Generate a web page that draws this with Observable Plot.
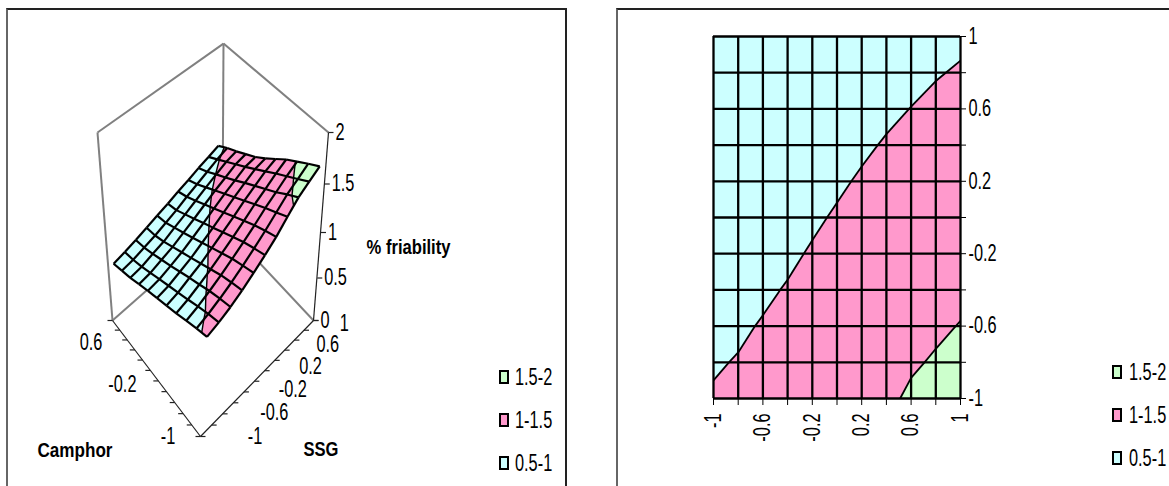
<!DOCTYPE html>
<html><head><meta charset="utf-8">
<script src="https://cdn.jsdelivr.net/npm/d3@7"></script>
<script src="https://cdn.jsdelivr.net/npm/@observablehq/plot@0.6"></script>
<style>
html,body{margin:0;padding:0;background:#fff;}
#page{position:relative;width:1169px;height:486px;overflow:hidden;background:#fff;font-family:"Liberation Sans",Arial,sans-serif;}
#page svg{position:absolute;top:0;background:transparent;}
.frame{position:absolute;top:8px;height:520px;border:2px solid #222;border-left-color:#666;box-sizing:border-box;}
.leg{position:absolute;display:flex;align-items:center;font-size:23px;color:#000;height:20px;line-height:20px;white-space:nowrap;}
.leg i{display:block;width:6px;height:10px;border:2px solid #000;margin-right:7px;flex:none;}
.leg span{display:inline-block;transform:scaleX(.71);transform-origin:0 50%;}
</style></head><body><div id="page"></div>
<script>
// SSG levels (columns) and Camphor levels (rows)
const levels = [-1,-0.8,-0.6,-0.4,-0.2,0,0.2,0.4,0.6,0.8,1];
const tickLabels = ["-1","-0.6","-0.2","0.2","0.6","1"];
const zTicks = [0,0.5,1,1.5,2];
const bandNames = ["0.5-1","1-1.5","1.5-2"];
const bandEdges = [0.5,1,1.5,2];
const bandColors = ["#CCFFFF","#FF99CC","#CCFFCC"];
// % friability; each row is one Camphor level from -1 to 1, each column one SSG level from -1 to 1
const row_m10 = [1.02,1.05,1.09,1.145,1.21,1.28,1.355,1.45,1.54,1.595,1.646];
const row_m08 = [0.98,1.012,1.056,1.108,1.17,1.238,1.31,1.39,1.47,1.525,1.58];
const row_m06 = [0.935,0.968,1.015,1.067,1.128,1.193,1.26,1.334,1.394,1.458,1.51];
const row_m04 = [0.89,0.92,0.965,1.015,1.074,1.137,1.201,1.271,1.329,1.391,1.44];
const row_m02 = [0.85,0.875,0.92,0.962,1.02,1.08,1.142,1.208,1.264,1.32,1.355];
const row_p00 = [0.81,0.83,0.87,0.91,0.966,1.023,1.083,1.145,1.199,1.25,1.27];
const row_p02 = [0.77,0.785,0.82,0.86,0.912,0.967,1.024,1.082,1.13,1.18,1.195];
const row_p04 = [0.725,0.74,0.775,0.81,0.86,0.91,0.965,1.019,1.065,1.115,1.135];
const row_p06 = [0.68,0.695,0.73,0.76,0.81,0.855,0.906,0.956,1.004,1.05,1.075];
const row_p08 = [0.645,0.66,0.69,0.72,0.76,0.80,0.85,0.893,0.939,0.985,1.022];
const row_p10 = [0.61,0.635,0.665,0.70,0.735,0.77,0.81,0.845,0.885,0.92,0.956];
const rows = [row_m10,row_m08,row_m06,row_m04,row_m02,row_p00,row_p02,row_p04,row_p06,row_p08,row_p10];

// ---------- split the surface cells into colour bands ----------
function clip(poly, t, keepAbove){
  const out=[];
  for(let i=0;i<poly.length;i++){
    const a=poly[i], b=poly[(i+1)%poly.length];
    const ina=keepAbove? a.z>=t : a.z<=t, inb=keepAbove? b.z>=t : b.z<=t;
    if(ina) out.push(a);
    if(ina!==inb){const k=(t-a.z)/(b.z-a.z); out.push({i:a.i+k*(b.i-a.i), j:a.j+k*(b.j-a.j), z:t});}
  }
  return out;
}
const cellPolys=[]; const contourSegs=[];
for(let j=0;j<10;j++)for(let i=0;i<10;i++){
  const q=[{i,j,z:rows[j][i]},{i:i+1,j,z:rows[j][i+1]},{i:i+1,j:j+1,z:rows[j+1][i+1]},{i,j:j+1,z:rows[j+1][i]}];
  bandNames.forEach((n,b)=>{
    const p=clip(clip(q,bandEdges[b],true),bandEdges[b+1],false);
    if(p.length>2) cellPolys.push({id:`${i}-${j}-${b}`,color:bandColors[b],pts:p});
  });
  [1,1.5].forEach(t=>{
    const cr=[];
    for(let e=0;e<4;e++){const a=q[e],b=q[(e+1)%4];
      if((a.z-t)*(b.z-t)<0){const k=(t-a.z)/(b.z-a.z);cr.push({i:a.i+k*(b.i-a.i),j:a.j+k*(b.j-a.j)});}}
    if(cr.length===2) contourSegs.push(cr);
  });
}

// ---------- perspective mapping for the 3-D panel ----------
const baseCorners=[[200,436],[313,320],[112,320],[222,223]]; // u,v = 00,10,01,11
function homography(){
  const [p0,p1,p3,p2]=baseCorners;
  const dx1=p1[0]-p2[0],dx2=p3[0]-p2[0],sx=p0[0]-p1[0]+p2[0]-p3[0];
  const dy1=p1[1]-p2[1],dy2=p3[1]-p2[1],sy=p0[1]-p1[1]+p2[1]-p3[1];
  const d=dx1*dy2-dx2*dy1;
  const g=(sx*dy2-dx2*sy)/d,h=(dx1*sy-sx*dy1)/d;
  const a=p1[0]-p0[0]+g*p1[0],b=p3[0]-p0[0]+h*p3[0],c=p0[0];
  const e=p1[1]-p0[1]+g*p1[1],f=p3[1]-p0[1]+h*p3[1],k=p0[1];
  return (u,v)=>{const w=g*u+h*v+1;return [(a*u+b*v+c)/w,(e*u+f*v+k)/w];};
}
const H=homography();
const bil=(c,u,v)=>c[0]*(1-u)*(1-v)+c[1]*u*(1-v)+c[2]*(1-u)*v+c[3]*u*v;
const boxRise=[1,1,1,0.957], boxLean=[0,7.5,-7.5,0.5];
const surfRise=[1.03,1.02,1.09,0.98], surfLean=[6,7.5,-7.5,-4];
function project(u,v,z,rise=boxRise,lean=boxLean){
  const [bx,by]=H(u,v);
  return [bx+z*bil(lean,u,v), by-(82*z+6*z*z)*bil(rise,u,v)];
}
const onSurface=(i,j,z)=>project((0.3+i*1.04)/11,(0.3+j*1.04)/11,z,surfRise,surfLean);

const surfFill=[];
cellPolys.forEach(c=>c.pts.forEach(p=>{const [x,y]=onSurface(p.i,p.j,p.z);surfFill.push({id:c.id,color:c.color,x,y});}));
const surfGrid=[];
for(let j=0;j<11;j++)for(let i=0;i<11;i++){
  if(i<10){const a=onSurface(i,j,rows[j][i]),b=onSurface(i+1,j,rows[j][i+1]);surfGrid.push({x1:a[0],y1:a[1],x2:b[0],y2:b[1]});}
  if(j<10){const a=onSurface(i,j,rows[j][i]),b=onSurface(i,j+1,rows[j+1][i]);surfGrid.push({x1:a[0],y1:a[1],x2:b[0],y2:b[1]});}
}
const zAt=(i,j)=>{const i0=Math.min(9,Math.floor(i)),j0=Math.min(9,Math.floor(j)),a=i-i0,b=j-j0;
  return rows[j0][i0]*(1-a)*(1-b)+rows[j0][i0+1]*a*(1-b)+rows[j0+1][i0]*(1-a)*b+rows[j0+1][i0+1]*a*b;};
const surfCont=contourSegs.map(([a,b])=>{const p=onSurface(a.i,a.j,zAt(a.i,a.j)),q=onSurface(b.i,b.j,zAt(b.i,b.j));return {x1:p[0],y1:p[1],x2:q[0],y2:q[1]};});
const seg=(a,b)=>({x1:a[0],y1:a[1],x2:b[0],y2:b[1]});
const walls=[
  seg(project(0,1,2),project(1,1,2)),seg(project(1,1,2),project(1,0,2)),
  seg(project(0,1,0),project(0,1,2)),seg(project(1,1,0),project(1,1,2)),
  seg(project(0,1,0),project(1,1,0)),seg(project(1,0,0),project(1,1,0))
];
const axes3d=[seg(project(1,0,0),project(1,0,2)),seg(project(0,0,0),project(0,1,0)),seg(project(0,0,0),project(1,0,0))];
d3.range(12).forEach(t=>{
  const a=project(t/11,0,0);axes3d.push({x1:a[0],y1:a[1],x2:a[0]+5,y2:a[1]});
  const b=project(0,t/11,0);axes3d.push({x1:b[0],y1:b[1],x2:b[0]-5,y2:b[1]});
});
zTicks.forEach(z=>{const a=project(1,0,z);axes3d.push({x1:a[0],y1:a[1],x2:a[0]+5,y2:a[1]});});

// labels of the 3-D panel sit just outside the axes
const zLabels=zTicks.map(z=>{const a=project(1,0,z);return {x:a[0]+7,y:a[1],t:String(z)};});
const ssgLabels=tickLabels.map((t,n)=>{const a=project((2*n+0.5)/11,0,0);return {x:a[0]+49-13.5*n/5,y:a[1]+6-8*n/5,t};});
const camLabels=[["-1",0],["-0.2",4],["0.6",8]].map(([t,n])=>{const a=project(0,(n+0.5)/11,0);return {x:a[0]-(n===0?28:40),y:a[1]+(n===0?6:-2),t};});
const boldTitles=[{x:37,y:450,t:"Camphor",w:75},{x:303,y:449,t:"SSG",w:35},{x:366,y:247,t:"% friability",w:84}];

const font='"Liberation Sans",Arial,sans-serif';
const left=Plot.plot({
  width:584,height:486,margin:0,
  x:{domain:[0,584],range:[0,584],axis:null},
  y:{domain:[0,486],range:[0,486],axis:null},
  style:{fontFamily:font,background:"transparent"},
  marks:[
    Plot.link(walls,{x1:"x1",y1:"y1",x2:"x2",y2:"y2",stroke:"#808080",strokeWidth:2}),
    Plot.link(axes3d,{x1:"x1",y1:"y1",x2:"x2",y2:"y2",stroke:"#222",strokeWidth:1.2}),
    Plot.line(surfFill,{x:"x",y:"y",z:"id",fill:"color",stroke:"color",strokeWidth:0.5,curve:"linear-closed"}),
    Plot.link(surfCont,{x1:"x1",y1:"y1",x2:"x2",y2:"y2",stroke:"#000",strokeWidth:1.4}),
    Plot.link(surfGrid,{x1:"x1",y1:"y1",x2:"x2",y2:"y2",stroke:"#000",strokeWidth:2.2}),
    Plot.text(zLabels,{x:"x",y:"y",text:"t",fontSize:23,textAnchor:"start",fill:"#000"}),
    Plot.text(ssgLabels,{x:"x",y:"y",text:"t",fontSize:23,textAnchor:"middle",fill:"#000"}),
    Plot.text(camLabels,{x:"x",y:"y",text:"t",fontSize:23,textAnchor:"middle",fill:"#000"}),
    Plot.text(boldTitles,{x:"x",y:"y",text:"t",fontSize:20,fontWeight:"bold",textAnchor:"start",fill:"#000"})
  ]
});
left.style.left="0px";

// ---------- contour panel ----------
const flatFill=[];
cellPolys.forEach(c=>c.pts.forEach(p=>flatFill.push({id:c.id,color:c.color,x:-1+p.i*0.2,y:-1+p.j*0.2})));
const flatCont=contourSegs.map(([a,b])=>({x1:-1+a.i*0.2,y1:-1+a.j*0.2,x2:-1+b.i*0.2,y2:-1+b.j*0.2}));
const showTick=d=>{const s=String(+d.toFixed(1));return tickLabels.includes(s)?s:"";};
const right=Plot.plot({
  width:585,height:486,
  marginLeft:129,marginRight:209,marginTop:36,marginBottom:88,
  x:{domain:[-1,1]},
  y:{domain:[-1,1]},
  style:{fontFamily:font,background:"transparent"},
  marks:[
    Plot.line(flatFill,{x:"x",y:"y",z:"id",fill:"color",stroke:"color",strokeWidth:0.5,curve:"linear-closed"}),
    Plot.link(flatCont,{x1:"x1",y1:"y1",x2:"x2",y2:"y2",stroke:"#000",strokeWidth:1.8}),
    Plot.ruleX(levels,{stroke:"#000",strokeWidth:2.3}),
    Plot.ruleY(levels,{stroke:"#000",strokeWidth:2.3}),
    Plot.axisX({ticks:levels,tickSize:7,tickPadding:8,tickRotate:-90,fontSize:23,stroke:"#000",tickFormat:showTick,label:null}),
    Plot.axisY({anchor:"right",ticks:levels,tickSize:5,tickPadding:3,fontSize:23,stroke:"#000",tickFormat:showTick,label:null})
  ]
});
right.style.left="584px";

const page=document.getElementById("page");
[[6,561],[616,600]].forEach(([l,w])=>{const f=document.createElement("div");f.className="frame";f.style.left=l+"px";f.style.width=w+"px";page.appendChild(f);});
page.appendChild(left);page.appendChild(right);
[[499,367,6],[1112,362,7]].forEach(([lx,ty,gap])=>{
  bandNames.slice().reverse().forEach((n,k)=>{
    const d=document.createElement("div");d.className="leg";d.style.left=lx+"px";d.style.top=(ty+k*43)+"px";
    const s=document.createElement("i");s.style.background=bandColors[2-k];s.style.marginRight=gap+"px";d.appendChild(s);
    const t=document.createElement("span");t.textContent=n;d.appendChild(t);page.appendChild(d);
  });
});
// the reference's lettering is condensed: squeeze every text horizontally
const boldWidths=new Map(boldTitles.map(b=>[b.t,b.w]));
page.querySelectorAll("svg text").forEach(t=>{
  const len=t.getComputedTextLength();
  if(!len) return;
  const target=boldWidths.get(t.textContent)||len*0.71;
  t.setAttribute("textLength",target);
  t.setAttribute("lengthAdjust","spacingAndGlyphs");
});
</script></body></html>
